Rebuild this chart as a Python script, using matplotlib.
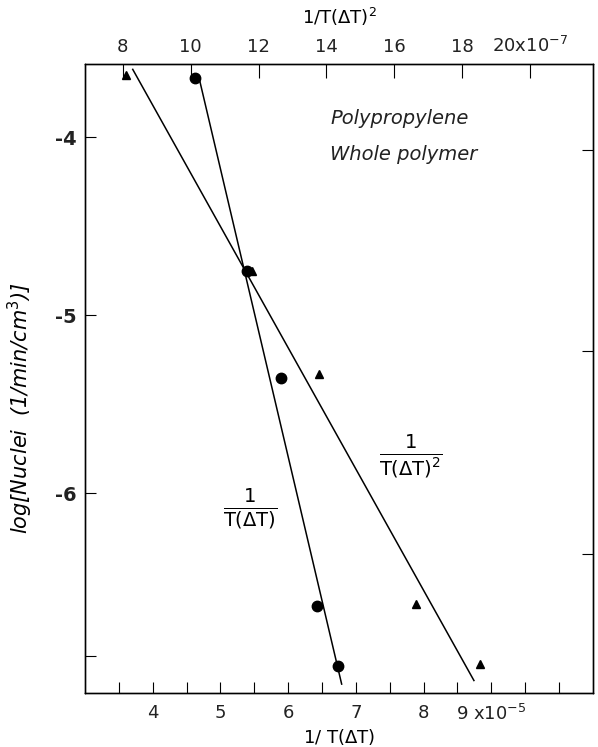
import matplotlib.pyplot as plt

# data
inv_t = [4.62, 5.40, 5.89, 6.42, 6.73]          # 1/T(dT) x 10^-5
log_n_circle = [-3.67, -4.75, -5.35, -6.63, -6.97]
inv_t2 = [8.09, 11.8, 13.78, 16.64, 18.53]      # 1/T(dT)^2 x 10^-7
log_n_tri = [-3.65, -4.75, -5.33, -6.62, -6.96]

# fitted straight lines (end points)
fit_circle_x = [4.68, 6.79]
fit_circle_y = [-3.66, -7.07]
fit_tri_x = [8.29, 18.35]
fit_tri_y = [-3.62, -7.05]

bottom_ticks = [3.5, 4, 4.5, 5, 5.5, 6, 6.5, 7, 7.5, 8, 8.5, 9, 9.5, 10]
bottom_labels = ['', '4', '', '5', '', '6', '', '7', '', '8', '', '9 x10$^{-5}$', '', '']
top_ticks = [8, 10, 12, 14, 16, 18, 20]
top_labels = ['8', '10', '12', '14', '16', '18', '20x10$^{-7}$']
y_ticks = [-4, -5, -6, -6.91]
y_labels = ['-4', '-5', '-6', '']

plt.rcParams['font.family'] = ['DejaVu Sans']
plt.rcParams['mathtext.fontset'] = 'dejavusans'

fig = plt.figure(figsize=(5.98, 7.47), dpi=100)
ax = fig.add_axes([0.142, 0.0723, 0.8496, 0.842])

ax.plot(fit_circle_x, fit_circle_y, color='black', lw=1.1)
ax.plot(inv_t, log_n_circle, 'o', color='black', ms=7.5)
ax.set_xlim(3.0, 10.5)
ax.set_ylim(-7.12, -3.59)

ax.set_xticks(bottom_ticks)
ax.set_xticklabels(bottom_labels, fontsize=13, color='#222222')
ax.set_yticks(y_ticks)
ax.set_yticklabels(y_labels, fontsize=14, fontweight='bold', color='#222222')
ax.tick_params(axis='x', direction='in', length=8, width=0.8, pad=8)
ax.tick_params(axis='y', direction='in', length=8, width=0.8, pad=6)
ax.set_xlabel('1/ T($\\Delta$T)', fontsize=13, labelpad=2)
ax.set_ylabel('log[Nuclei  (1/min/cm$^3$)]', fontsize=15, style='italic')
ax.yaxis.set_label_coords(-0.098, 0.453)

ax2 = ax.twiny()
ax2.plot(fit_tri_x, fit_tri_y, color='black', lw=1.1)
ax2.plot(inv_t2, log_n_tri, '^', color='black', ms=6)
ax2.set_xlim(6.88, 21.86)
ax2.set_xticks(top_ticks)
ax2.set_xticklabels(top_labels, fontsize=13, color='#222222')
ax2.tick_params(axis='x', direction='in', length=10, width=0.8, pad=6)
ax2.set_xlabel('1/T($\\Delta$T)$^2$', fontsize=13, labelpad=8)

ax3 = ax.twinx()
ax3.set_ylim(-7.12, -3.59)
ax3.set_yticks([-4.07, -5.2, -6.34])
ax3.set_yticklabels([])
ax3.tick_params(axis='y', direction='in', length=8, width=0.8)

for a in (ax, ax2, ax3):
    for s in a.spines.values():
        s.set_linewidth(0.9)

ax.text(0.483, 0.905, 'Polypropylene', transform=ax.transAxes, fontsize=14,
        style='italic', color='#222222')
ax.text(0.483, 0.848, 'Whole polymer', transform=ax.transAxes, fontsize=14,
        style='italic', color='#222222')
ax.text(0.325, 0.293, r'$\frac{1}{\mathrm{T(\Delta T)}}$', transform=ax.transAxes,
        fontsize=20, ha='center', va='center')
ax.text(0.642, 0.376, r'$\frac{1}{\mathrm{T(\Delta T)^2}}$', transform=ax.transAxes,
        fontsize=20, ha='center', va='center')

fig.savefig('out.png', dpi=100)
